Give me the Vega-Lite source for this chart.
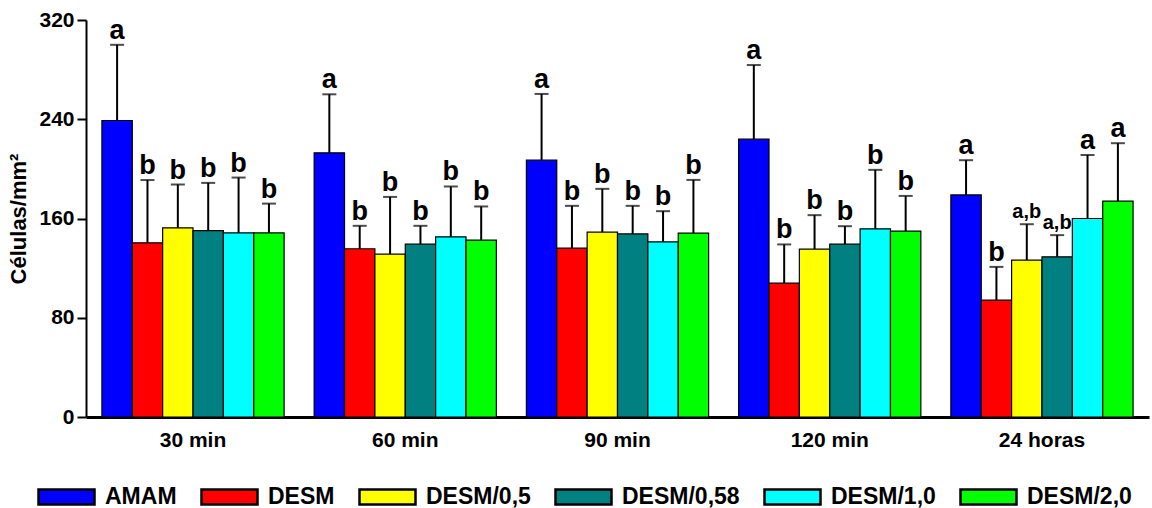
{
  "$schema": "https://vega.github.io/schema/vega-lite/v6.json",
  "width": 1063,
  "height": 397,
  "autosize": {"type": "none"},
  "padding": {"left": 86, "top": 20, "right": 3, "bottom": 91},
  "background": "white",
  "config": {
    "font": "Liberation Sans",
    "view": {"stroke": null},
    "axis": {"labelFontWeight": "bold", "titleFontWeight": "bold", "labelColor": "black", "titleColor": "black", "grid": false},
    "axisY": {"labelFontSize": 21, "titleFontSize": 22}
  },
  "data": {
    "values": [
      {"time": "30 min", "group": "AMAM", "value": 239, "upper": 300, "label": "a"},
      {"time": "30 min", "group": "DESM", "value": 140.4, "upper": 191, "label": "b"},
      {"time": "30 min", "group": "DESM/0,5", "value": 152.5, "upper": 187.4, "label": "b"},
      {"time": "30 min", "group": "DESM/0,58", "value": 150.3, "upper": 188.7, "label": "b"},
      {"time": "30 min", "group": "DESM/1,0", "value": 148.4, "upper": 193, "label": "b"},
      {"time": "30 min", "group": "DESM/2,0", "value": 148.4, "upper": 172, "label": "b"},
      {"time": "60 min", "group": "AMAM", "value": 212.9, "upper": 260.1, "label": "a"},
      {"time": "60 min", "group": "DESM", "value": 135.6, "upper": 154.1, "label": "b"},
      {"time": "60 min", "group": "DESM/0,5", "value": 131.3, "upper": 177.4, "label": "b"},
      {"time": "60 min", "group": "DESM/0,58", "value": 139.3, "upper": 154.1, "label": "b"},
      {"time": "60 min", "group": "DESM/1,0", "value": 145.2, "upper": 185.8, "label": "b"},
      {"time": "60 min", "group": "DESM/2,0", "value": 142.5, "upper": 169.7, "label": "b"},
      {"time": "90 min", "group": "AMAM", "value": 207, "upper": 260.4, "label": "a"},
      {"time": "90 min", "group": "DESM", "value": 136.1, "upper": 170.2, "label": "b"},
      {"time": "90 min", "group": "DESM/0,5", "value": 149, "upper": 183.9, "label": "b"},
      {"time": "90 min", "group": "DESM/0,58", "value": 147.6, "upper": 170.2, "label": "b"},
      {"time": "90 min", "group": "DESM/1,0", "value": 141.2, "upper": 165.9, "label": "b"},
      {"time": "90 min", "group": "DESM/2,0", "value": 148.2, "upper": 191.1, "label": "b"},
      {"time": "120 min", "group": "AMAM", "value": 223.9, "upper": 283.7, "label": "a"},
      {"time": "120 min", "group": "DESM", "value": 107.9, "upper": 139.1, "label": "b"},
      {"time": "120 min", "group": "DESM/0,5", "value": 135.3, "upper": 162.7, "label": "b"},
      {"time": "120 min", "group": "DESM/0,58", "value": 139.3, "upper": 153.8, "label": "b"},
      {"time": "120 min", "group": "DESM/1,0", "value": 151.7, "upper": 199.2, "label": "b"},
      {"time": "120 min", "group": "DESM/2,0", "value": 149.8, "upper": 178.2, "label": "b"},
      {"time": "24 horas", "group": "AMAM", "value": 179, "upper": 207, "label": "a"},
      {"time": "24 horas", "group": "DESM", "value": 94.2, "upper": 121, "label": "b"},
      {"time": "24 horas", "group": "DESM/0,5", "value": 126.4, "upper": 155.4, "label": "a,b"},
      {"time": "24 horas", "group": "DESM/0,58", "value": 129.1, "upper": 146.6, "label": "a,b"},
      {"time": "24 horas", "group": "DESM/1,0", "value": 160, "upper": 211.2, "label": "a"},
      {"time": "24 horas", "group": "DESM/2,0", "value": 174, "upper": 220.7, "label": "a"}
    ]
  },
  "encoding": {
    "x": {
      "field": "time", "type": "nominal", "sort": null,
      "scale": {"paddingInner": 0.1415, "paddingOuter": 0.075},
      "axis": {"title": null, "labelAngle": 0, "labelFontSize": 21, "labelPadding": 12, "ticks": false, "domainColor": "black", "domainWidth": 3}
    },
    "xOffset": {"field": "group", "type": "nominal", "sort": null, "scale": {"paddingInner": 0, "paddingOuter": 0}}
  },
  "layer": [
    {
      "mark": {"type": "rule", "color": "black", "strokeWidth": 2},
      "encoding": {
        "y": {
          "field": "value", "type": "quantitative",
          "scale": {"domain": [0, 320], "nice": false},
          "axis": {"values": [0, 80, 160, 240, 320], "title": "Células/mm²", "titleFontSize": 22, "titlePadding": 8, "labelFontSize": 21, "tickColor": "black", "tickWidth": 2, "tickSize": 9, "labelPadding": 3, "domainColor": "black", "domainWidth": 2}
        },
        "y2": {"field": "upper"}
      }
    },
    {
      "mark": {"type": "tick", "color": "black", "thickness": 2, "size": 14, "orient": "horizontal"},
      "encoding": {
        "y": {"field": "upper", "type": "quantitative"}
      }
    },
    {
      "mark": {"type": "bar", "stroke": "black", "strokeWidth": 1.2},
      "encoding": {
        "y": {"field": "value", "type": "quantitative"},
        "color": {
          "field": "group", "type": "nominal", "sort": null,
          "scale": {
            "domain": ["AMAM", "DESM", "DESM/0,5", "DESM/0,58", "DESM/1,0", "DESM/2,0"],
            "range": ["#0000FF", "#FF0000", "#FFFF00", "#008080", "#00FFFF", "#00FF00"]
          },
          "legend": {
            "title": null, "orient": "none", "direction": "horizontal", "columns": 6,
            "legendX": -49, "legendY": 447,
            "symbolType": "M-1,-0.27H1V0.27H-1Z", "symbolSize": 3136,
            "symbolStrokeColor": "black", "symbolStrokeWidth": 2.5, "symbolOpacity": 1,
            "labelFontSize": 23, "labelFontWeight": "bold", "labelColor": "black",
            "labelOffset": 9, "columnPadding": 19, "labelLimit": 250
          }
        }
      }
    },
    {
      "transform": [{"filter": "datum.label != 'a,b'"}],
      "mark": {"type": "text", "fontWeight": "bold", "color": "black", "baseline": "alphabetic", "dy": -6, "fontSize": 27},
      "encoding": {
        "y": {"field": "upper", "type": "quantitative"},
        "text": {"field": "label"}
      }
    },
    {
      "transform": [{"filter": "datum.label == 'a,b'"}],
      "mark": {"type": "text", "fontWeight": "bold", "color": "black", "baseline": "alphabetic", "dy": -6, "fontSize": 20},
      "encoding": {
        "y": {"field": "upper", "type": "quantitative"},
        "text": {"field": "label"}
      }
    }
  ]
}
